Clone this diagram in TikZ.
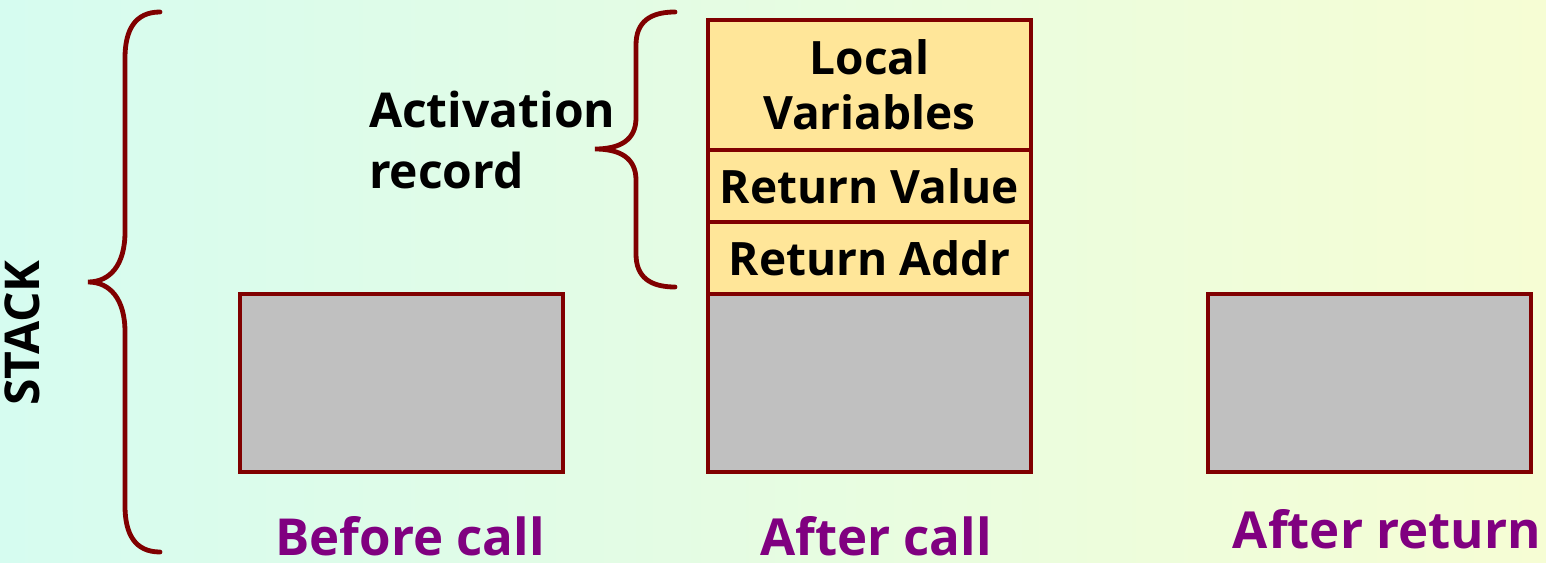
\documentclass[tikz,border=0pt]{standalone}
\usepackage{fontspec}
\setmainfont{Open Sans}
\usetikzlibrary{positioning}
\definecolor{framered}{RGB}{128,0,0}
\definecolor{recfill}{RGB}{255,230,153}
\definecolor{oldfill}{RGB}{192,192,192}
\definecolor{labelpurple}{RGB}{128,0,128}
\definecolor{bgleft}{RGB}{214,252,240}
\definecolor{bgright}{RGB}{246,253,212}

\begin{document}
\begin{tikzpicture}[x=0.5pt,y=-0.5pt,
  cell/.style={draw=framered,line width=2pt,fill=recfill,minimum width=161.5pt,
    inner sep=0pt,outer sep=0pt,align=center,
    font=\bfseries\fontsize{23}{27.5}\selectfont},
  old/.style={cell,fill=oldfill,minimum height=89pt},
  caplabel/.style={text=labelpurple,font=\bfseries\fontsize{25.5}{30}\selectfont},
  brace/.style={draw=framered,line width=2.4pt,line cap=round}]
%\tikzstyle{every node}=[draw=red]

  \shade[left color=bgleft,right color=bgright] (0,0) rectangle (1546,562);
  \useasboundingbox (0,0) rectangle (1546,562);

  \node[old]                                 (before)  at (401.5,383) {};
  \node[cell,minimum height=65pt]            (locals)  at (869.5,85)  {Local\\Variables};
  \node[cell,minimum height=36pt,below=0pt of locals] (retval)  {Return Value};
  \node[cell,minimum height=36pt,below=0pt of retval] (retaddr) {Return Addr};
  \node[old,below=0pt of retaddr]            (saved)   {};
  \node[old]                                 (after)   at (1369.5,383) {};

  \node[caplabel] (lbefore) at (410,536)  {Before call};
  \node[caplabel] (lafter)  at (876,536)  {After call};
  \node[caplabel] (lreturn) at (1387,529) {After return};

  \node[rotate=90,font=\bfseries\fontsize{24}{28}\selectfont] (stack) at (22,333) {STACK};
  \node[anchor=west,align=left,font=\bfseries\fontsize{24}{30.5}\selectfont]
    (actrec) at (362,140) {Activation\\record};

  % braces
  \draw[brace] (160,12) .. controls (135,12) and (125,30) .. (125,58) -- (125,232)
    .. controls (125,265) and (110,282) .. (88,282)
    .. controls (110,282) and (125,299) .. (125,332) -- (125,506)
    .. controls (125,534) and (135,552) .. (160,552);
  \draw[brace] (675,12) .. controls (650,12) and (636,22) .. (636,45) -- (636,118)
    .. controls (636,140) and (620,149) .. (595,149)
    .. controls (620,149) and (636,158) .. (636,180) -- (636,254)
    .. controls (636,277) and (650,287) .. (675,287);
\end{tikzpicture}
\end{document}
